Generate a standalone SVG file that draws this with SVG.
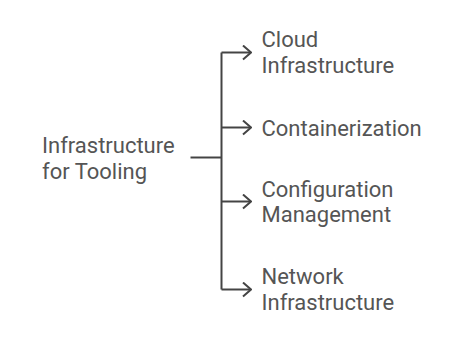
<svg xmlns="http://www.w3.org/2000/svg" width="457" height="337" viewBox="0 0 457 337">
<style>
.t{font-family:Roboto,"Liberation Sans",sans-serif;font-size:22px;fill:#555555}
.c{fill:none;stroke:#444444;stroke-width:2;stroke-linecap:butt;stroke-linejoin:miter}
</style>
<defs>
<marker id="ah" viewBox="0 0 10 16" refX="9" refY="8" markerWidth="10" markerHeight="16" markerUnits="userSpaceOnUse" orient="auto">
<path d="M1,1 L9,8 L1,15" fill="none" stroke="#444444" stroke-width="2"/>
</marker>
</defs>
<rect width="457" height="337" fill="#ffffff"/>
<g id="connectors">
<path class="c" d="M190.5,157.5 H221.5"/>
<path class="c" d="M221.5,52.5 V289.5"/>
<path class="c" d="M221.5,52.5 H251" marker-end="url(#ah)"/>
<path class="c" d="M221.5,127.5 H251" marker-end="url(#ah)"/>
<path class="c" d="M221.5,201.5 H251" marker-end="url(#ah)"/>
<path class="c" d="M221.5,289.5 H251" marker-end="url(#ah)"/>
</g>
<g id="root"><text class="t" x="42" y="152.5">Infrastructure</text><text class="t" x="42" y="179">for Tooling</text></g>
<g id="cloud"><text class="t" x="261.5" y="47">Cloud</text><text class="t" x="261.5" y="72.5">Infrastructure</text></g>
<g id="containerization"><text class="t" x="261.5" y="135.5">Containerization</text></g>
<g id="configuration"><text class="t" x="261.5" y="196.5">Configuration</text><text class="t" x="261.5" y="222">Management</text></g>
<g id="network"><text class="t" x="261.5" y="284">Network</text><text class="t" x="261.5" y="309.5">Infrastructure</text></g>
</svg>
